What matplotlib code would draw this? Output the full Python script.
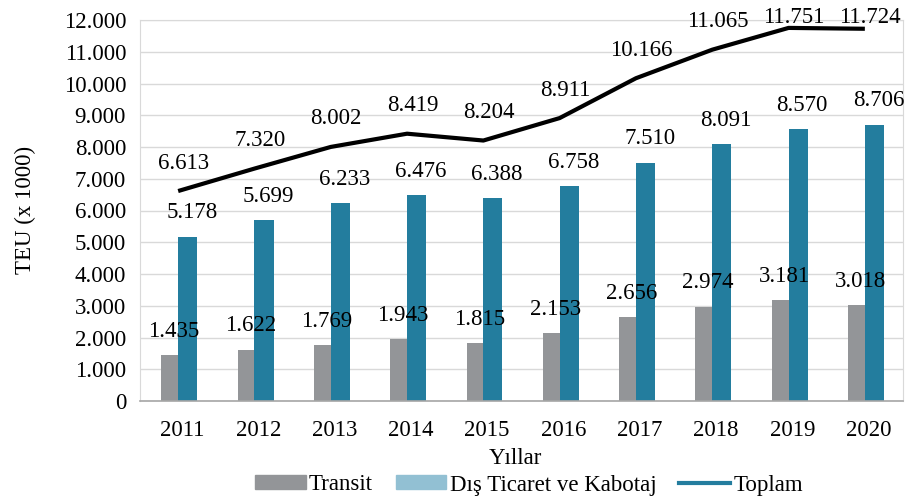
import numpy as np
import matplotlib
matplotlib.use("Agg")
import matplotlib.pyplot as plt
from matplotlib.ticker import FuncFormatter, MultipleLocator
from matplotlib.patches import Patch
from matplotlib.lines import Line2D

years = ["2011", "2012", "2013", "2014", "2015", "2016", "2017", "2018", "2019", "2020"]
transit = [1435, 1622, 1769, 1943, 1815, 2153, 2656, 2974, 3181, 3018]
dis_ticaret = [5178, 5699, 6233, 6476, 6388, 6758, 7510, 8091, 8570, 8706]
toplam = [6613, 7320, 8002, 8419, 8204, 8911, 10166, 11065, 11751, 11724]

GRAY = "#939598"
TEAL = "#237d9e"
LIGHT = "#92c0d3"

def tr_fmt(v):
	return "{:,}".format(int(round(v))).replace(",", ".")

plt.rcParams['font.family'] = ['Liberation Serif', 'DejaVu Serif']
plt.rcParams['font.size'] = 16.5

fig = plt.figure(figsize=(9.1, 4.99), dpi=100)
ax = fig.add_axes([140/910, 1 - 401/499, 763/910, 381/499])

x = np.arange(len(years))
# gray bar left of the group centre, teal bar right of it
ax.bar(x - 0.11, transit, width=0.22, color=GRAY, zorder=2)
ax.bar(x + 0.125, dis_ticaret, width=0.25, color=TEAL, zorder=2)

ax.plot(x, toplam, color='black', linewidth=3, zorder=3, solid_capstyle='butt')

for i in range(len(years)):
	ax.annotate(tr_fmt(transit[i]), (x[i] - 0.11, transit[i]), xytext=(3, 17),
		textcoords='offset points', ha='center', va='center')
	ax.annotate(tr_fmt(dis_ticaret[i]), (x[i] + 0.125, dis_ticaret[i]), xytext=(3, 17),
		textcoords='offset points', ha='center', va='center')
	ty = min(toplam[i] + 880, 12090)
	ax.text(x[i] + 0.07, ty, tr_fmt(toplam[i]), ha='center', va='center', zorder=4)

ax.set_xlim(-0.5, len(years) - 0.5)
ax.set_ylim(0, 12000)
ax.yaxis.set_major_locator(MultipleLocator(1000))
ax.yaxis.set_major_formatter(FuncFormatter(lambda v, pos: tr_fmt(v)))
ax.set_xticks(x + 0.05)
ax.set_xticklabels(years)
ax.tick_params(axis='x', length=0, pad=14)
ax.tick_params(axis='y', length=0, pad=10)
ax.grid(axis='y', color='#d9d9d9', linewidth=1, zorder=0)
ax.set_axisbelow(True)
for s in ['left', 'top', 'right']:
	ax.spines[s].set_color('#d9d9d9')
ax.spines['bottom'].set_color('#a6a6a6')
ax.spines['bottom'].set_linewidth(1.2)

fig.text(25/910, 1 - 210/499, "TEU (x 1000)", rotation=90, ha='center', va='center')
fig.text(515/910, 1 - 458/499, "Yıllar", ha='center', va='center')

handles = [Patch(color=GRAY), Patch(color=LIGHT), Line2D([0], [0], color=TEAL, linewidth=3)]
labels = ["Transit", "Dış Ticaret ve Kabotaj", "Toplam"]
fig.legend(handles, labels, loc='center', bbox_to_anchor=(529/910, 1 - 485/499), ncol=3,
	frameon=False, handlelength=2.2, handleheight=0.55, handletextpad=0.15, columnspacing=1.0,
	borderpad=0)

fig.savefig("out.png", dpi=100)
